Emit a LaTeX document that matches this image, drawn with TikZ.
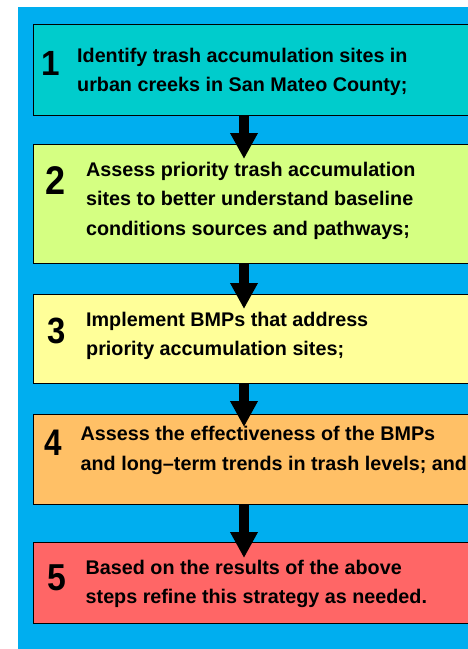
\documentclass[tikz,border=0pt]{standalone}
\usepackage{fontspec}
\setmainfont{Liberation Sans}
\usetikzlibrary{arrows.meta}

\definecolor{panelblue}{RGB}{0,174,239}
\definecolor{stepteal}{RGB}{0,204,204}
\definecolor{steplime}{RGB}{213,255,130}
\definecolor{stepyellow}{RGB}{255,255,153}
\definecolor{steporange}{RGB}{255,192,102}
\definecolor{stepred}{RGB}{255,102,102}

\tikzset{
  stepbox/.style={draw=black, line width=0.9pt, inner sep=0pt, outer sep=0pt,
    anchor=north west, minimum width=450pt},
  stepnum/.style={anchor=base, inner sep=0pt},
  steptext/.style={anchor=base west, inner sep=0pt},
  flowarrow/.style={line width=10pt, -{Triangle[width=26pt,length=26pt]}},
}

\newcommand{\stepbody}[1]{\parbox[t]{420pt}{\fontsize{19.75pt}{29.5pt}\bfseries\selectfont\raggedright #1}}
\newcommand{\stepdigit}[3]{\fontsize{#1}{#1}\bfseries\selectfont\scalebox{#2}[1]{#3}}

\begin{document}
\begin{tikzpicture}[x=1pt, y=-1pt]
  % page and blue panel
  \fill[white] (0,0) rectangle (468,649);
  \useasboundingbox (0,0) rectangle (468,649);
  \fill[panelblue] (17.7,7.3) rectangle (470,651);

  % step boxes
  \node[stepbox, fill=stepteal,   minimum height=91pt]  (b1) at (33.5,24)  {};
  \node[stepbox, fill=steplime,   minimum height=119pt] (b2) at (33.5,144) {};
  \node[stepbox, fill=stepyellow, minimum height=89pt]  (b3) at (33.5,294) {};
  \node[stepbox, fill=steporange, minimum height=90pt]  (b4) at (33.5,414) {};
  \node[stepbox, fill=stepred,    minimum height=81pt]  (b5) at (33.5,542) {};

  % step numbers
  \node[stepnum] (n1) at (51,75)      {\stepdigit{35pt}{0.95}{1}};
  \node[stepnum] (n2) at (56,194)     {\stepdigit{40pt}{0.9}{2}};
  \node[stepnum] (n3) at (57,343)     {\stepdigit{36.5pt}{0.9}{3}};
  \node[stepnum] (n4) at (53.3,455.7) {\stepdigit{37pt}{0.85}{4}};
  \node[stepnum] (n5) at (57,590)     {\stepdigit{37.5pt}{0.9}{5}};

  % step descriptions
  \node[steptext] (t1) at (77,62) {\stepbody{Identify trash accumulation sites in\\
    urban creeks in San Mateo County;}};
  \node[steptext] (t2) at (86,176) {\stepbody{Assess priority trash accumulation\\
    sites to better understand baseline\\ conditions sources and pathways;}};
  \node[steptext] (t3) at (86,326) {\stepbody{Implement BMPs that address\\
    priority accumulation sites;}};
  \node[steptext] (t4) at (80.5,440.7) {\stepbody{Assess the effectiveness of the BMPs\\
    and long--term trends in trash levels; and}};
  \node[steptext] (t5) at (85.5,574.3) {\stepbody{Based on the results of the above\\
    steps refine this strategy as needed.}};

  % flow arrows
  \coordinate (ax) at (244,0);
  \draw[flowarrow] (b1.south -| ax) -- ([yshift=-15pt]b2.north -| ax);
  \draw[flowarrow] (b2.south -| ax) -- ([yshift=-15pt]b3.north -| ax);
  \draw[flowarrow] (b3.south -| ax) -- ([yshift=-13pt]b4.north -| ax);
  \draw[flowarrow] (b4.south -| ax) -- ([yshift=-16pt]b5.north -| ax);
\end{tikzpicture}
\end{document}
